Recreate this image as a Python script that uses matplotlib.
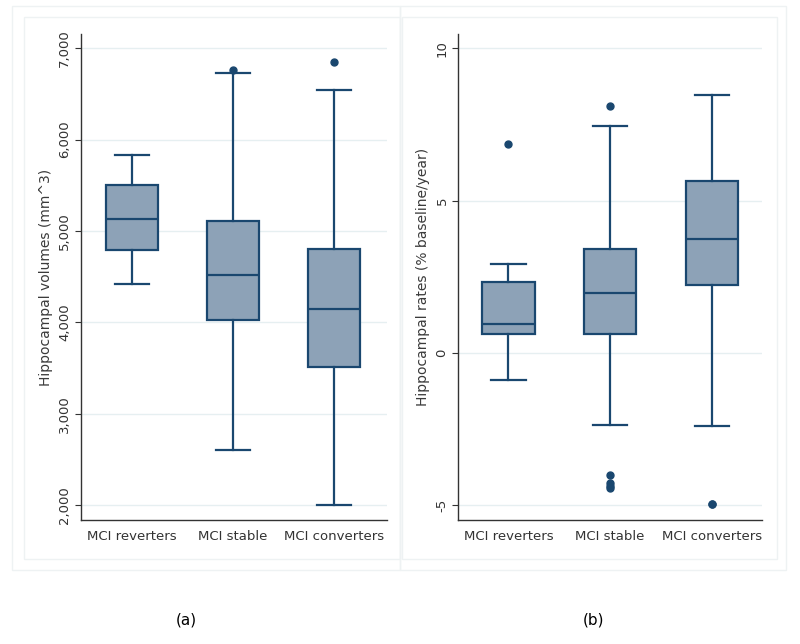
import matplotlib
matplotlib.use('Agg')
import matplotlib.pyplot as plt
from matplotlib.patches import Rectangle

# Box summaries
groups = ['MCI reverters', 'MCI stable', 'MCI converters']

# (a) hippocampal volumes (mm^3)
vol_whislo = [4416, 2602, 2000]
vol_q1 = [4792, 4025, 3511]
vol_med = [5135, 4515, 4150]
vol_q3 = [5500, 5106, 4803]
vol_whishi = [5835, 6726, 6547]
vol_fliers = [[], [6759], [6853]]

# (b) hippocampal rates (% baseline/year)
rate_whislo = [-0.90, -2.37, -2.41]
rate_q1 = [0.61, 0.63, 2.22]
rate_med = [0.96, 1.95, 3.75]
rate_q3 = [2.33, 3.42, 5.63]
rate_whishi = [2.92, 7.46, 8.48]
rate_fliers = [[6.87], [8.10, -4.00, -4.28, -4.38, -4.45], [-4.95, -4.97]]

navy = '#1A476F'
fill = '#8DA2B7'
grid_col = '#E6EFF1'
frame_col = '#EEF2F3'

plt.rcParams['font.family'] = ['DejaVu Sans']


def make_stats(lo, q1, med, q3, hi, fl):
    return [dict(whislo=a, q1=b, med=c, q3=d, whishi=e, fliers=f)
            for a, b, c, d, e, f in zip(lo, q1, med, q3, hi, fl)]


def draw_panel(ax, stats, ylabel, yticks, yticklabels, ylim, xlim):
    ax.bxp(stats, positions=[1, 2, 3], widths=0.515, patch_artist=True,
           showfliers=True, capwidths=0.34,
           boxprops=dict(facecolor=fill, edgecolor=navy, linewidth=1.6),
           medianprops=dict(color=navy, linewidth=1.6),
           whiskerprops=dict(color=navy, linewidth=1.6),
           capprops=dict(color=navy, linewidth=1.6),
           flierprops=dict(marker='o', markerfacecolor=navy,
                           markeredgecolor=navy, markersize=5))
    ax.set_ylim(*ylim)
    ax.set_xlim(*xlim)
    ax.set_yticks(yticks)
    ax.set_yticklabels(yticklabels, rotation=90, va='center', fontsize=9.5,
                       color='#333333')
    ax.set_xticks([1, 2, 3])
    ax.set_xticklabels(groups, fontsize=9.5, color='#333333')
    ax.tick_params(axis='x', length=0, pad=7)
    ax.tick_params(axis='y', length=4, width=0.8, color='#333333', pad=3)
    ax.set_ylabel(ylabel, fontsize=10, color='#3a3a3a', labelpad=4)
    ax.yaxis.grid(True, color=grid_col, linewidth=1.0)
    ax.set_axisbelow(True)
    for s in ['top', 'right']:
        ax.spines[s].set_visible(False)
    for s in ['left', 'bottom']:
        ax.spines[s].set_color('#333333')
        ax.spines[s].set_linewidth(1.0)


fig = plt.figure(figsize=(8, 6.44), dpi=100)

# faint Stata-style graph frames
W, H = 800.0, 644.0
def frame(x0, y0, x1, y1):
    fig.patches.append(Rectangle((x0 / W, 1 - y1 / H), (x1 - x0) / W, (y1 - y0) / H,
                                 transform=fig.transFigure, fill=False,
                                 edgecolor=frame_col, linewidth=1.0))
frame(12, 6, 400, 570)
frame(24, 17, 400, 559)
frame(400, 6, 786, 570)
frame(402, 17, 777, 559)

ax1 = fig.add_axes([81 / W, 1 - 520 / H, 306 / W, 486 / H])
draw_panel(ax1, make_stats(vol_whislo, vol_q1, vol_med, vol_q3, vol_whishi, vol_fliers),
           'Hippocampal volumes (mm^3)',
           [2000, 3000, 4000, 5000, 6000, 7000],
           ['2,000', '3,000', '4,000', '5,000', '6,000', '7,000'],
           (1836, 7156), (0.495, 3.525))

ax2 = fig.add_axes([458.3 / W, 1 - 520 / H, 303.4 / W, 486 / H])
draw_panel(ax2, make_stats(rate_whislo, rate_q1, rate_med, rate_q3, rate_whishi, rate_fliers),
           'Hippocampal rates (% baseline/year)',
           [-5, 0, 5, 10], ['-5', '0', '5', '10'],
           (-5.49, 10.47), (0.508, 3.49))

fig.text(186 / W, 1 - 620 / H, '(a)', ha='center', va='center', fontsize=11)
fig.text(594 / W, 1 - 620 / H, '(b)', ha='center', va='center', fontsize=11)

fig.savefig('out.png', dpi=100)
